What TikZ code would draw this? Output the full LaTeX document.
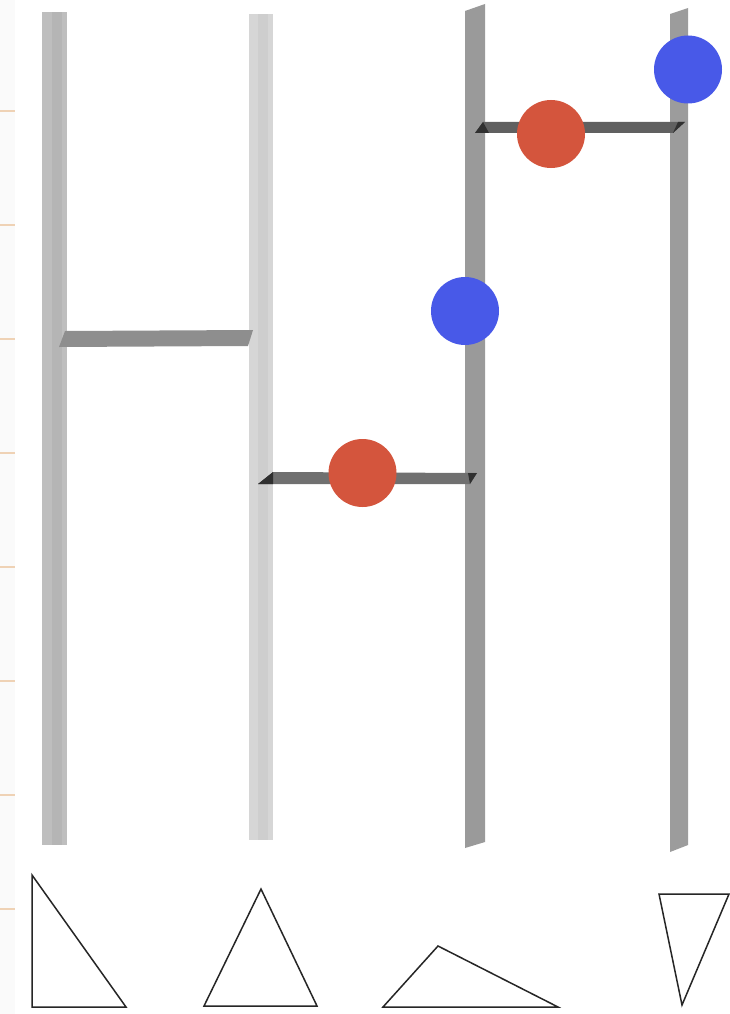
\documentclass[tikz,border=0pt]{standalone}
\begin{document}
\begin{tikzpicture}[x=1pt,y=-1pt,
  tickline/.style={draw=orange!30!brown!35, line width=1.2pt},
  ball/.style={circle, minimum size=68pt, inner sep=0pt},
  redball/.style={ball, fill=ballred},
  blueball/.style={ball, fill=ballblue},
  tri/.style={draw=black!85, line width=1.5pt, line join=miter}]
\definecolor{ballred}{HTML}{D4553D}
\definecolor{ballblue}{HTML}{4859E8}
\definecolor{barA}{HTML}{BEBEBE}
\definecolor{barB}{HTML}{D6D6D6}
\definecolor{barC}{HTML}{9A9A9A}
\definecolor{barD}{HTML}{9C9C9C}
\definecolor{rungA}{HTML}{8E8E8E}
\definecolor{rungB}{HTML}{707070}
\definecolor{rungC}{HTML}{606060}
\definecolor{tipdark}{HTML}{303030}
\useasboundingbox (0,0) rectangle (730,1014);
\fill[white] (0,0) rectangle (730,1014);
\fill[black!2] (0,0) rectangle (15,1014);
\foreach \y in {111,225,339,453,567,681,795,909}
  \draw[tickline] (0,\y) -- (15,\y);
% vertical bars
\fill[barA] (42,12) -- (67,12) -- (67,845) -- (42,845) -- cycle;
\fill[barA!95!black] (52,12) -- (62,12) -- (62,845) -- (52,845) -- cycle;
\fill[barB] (249,14) -- (273,14) -- (273,840) -- (249,840) -- cycle;
\fill[barB!96!black] (258,14) -- (268,14) -- (268,840) -- (258,840) -- cycle;
\fill[barC] (465,11) -- (485,4) -- (485,842) -- (465,848) -- cycle;
\fill[barD] (670,14) -- (688,8) -- (688,845) -- (670,852) -- cycle;
% rungs
\fill[rungA] (59,347) -- (65,331) -- (253,330) -- (248,346) -- cycle;
\fill[rungB] (258,484) -- (273,472) -- (477,473) -- (470,484) -- cycle;
\fill[tipdark] (258,484) -- (273,472) -- (273,484) -- cycle;
\fill[tipdark] (470,484) -- (477,473) -- (468,473) -- cycle;
\fill[rungC] (475,133) -- (483,122) -- (685,122) -- (673,133) -- cycle;
\fill[tipdark] (475,133) -- (483,122) -- (489,133) -- cycle;
\fill[tipdark] (673,133) -- (685,122) -- (678,122) -- cycle;
% balls
\node[blueball] (b1) at (688,69.5) {};
\node[redball]  (r1) at (551,134) {};
\node[blueball] (b2) at (465,311) {};
\node[redball]  (r2) at (362.5,473) {};
% triangles
\draw[tri] (32,875) -- (32,1007) -- (126,1007) -- cycle;
\draw[tri] (261,889) -- (317,1006) -- (204,1006) -- cycle;
\draw[tri] (438,946) -- (558,1007) -- (383,1007) -- cycle;
\draw[tri] (659,894) -- (729,894) -- (682,1005) -- cycle;
\end{tikzpicture}
\end{document}
